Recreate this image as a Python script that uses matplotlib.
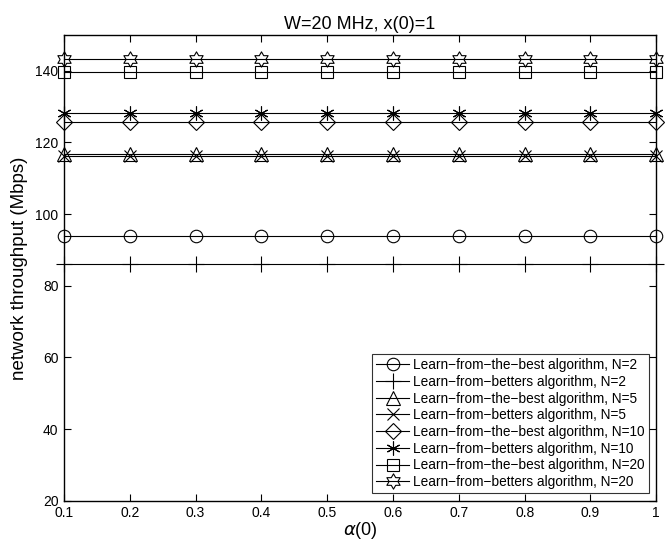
import matplotlib.pyplot as plt
import numpy as np
from matplotlib.path import Path

plt.rcParams['font.family'] = ['Liberation Sans', 'DejaVu Sans']

alpha0 = [0.1, 0.2, 0.3, 0.4, 0.5, 0.6, 0.7, 0.8, 0.9, 1.0]

# throughput (Mbps), constant across alpha(0)
best_n2 = [94.0] * 10
betters_n2 = [86.0] * 10
best_n5 = [116.8] * 10
betters_n5 = [116.3] * 10
best_n10 = [125.8] * 10
betters_n10 = [128.3] * 10
best_n20 = [139.7] * 10
betters_n20 = [143.2] * 10

x_ticks = [0.1, 0.2, 0.3, 0.4, 0.5, 0.6, 0.7, 0.8, 0.9, 1.0]
x_ticklabels = ['0.1', '0.2', '0.3', '0.4', '0.5', '0.6', '0.7', '0.8', '0.9', '1']
y_ticks = [20, 40, 60, 80, 100, 120, 140]

# six-pointed star outline for the N=20 betters curve
ang = np.deg2rad(90 + 30 * np.arange(12))
rad = np.where(np.arange(12) % 2 == 0, 1.0, 1 / np.sqrt(3))
verts = np.column_stack([rad * np.cos(ang), rad * np.sin(ang)])
verts = np.vstack([verts, verts[0]])
hexagram = Path(verts, closed=True)

series = [
    (best_n2, 'o', 9, 'Learn\u2212from\u2212the\u2212best algorithm, N=2'),
    (betters_n2, '+', 12, 'Learn\u2212from\u2212betters algorithm, N=2'),
    (best_n5, '^', 10, 'Learn\u2212from\u2212the\u2212best algorithm, N=5'),
    (betters_n5, 'x', 8, 'Learn\u2212from\u2212betters algorithm, N=5'),
    (best_n10, 'D', 8, 'Learn\u2212from\u2212the\u2212best algorithm, N=10'),
    (betters_n10, (6, 2, 0), 10, 'Learn\u2212from\u2212betters algorithm, N=10'),
    (best_n20, 's', 8, 'Learn\u2212from\u2212the\u2212best algorithm, N=20'),
    (betters_n20, hexagram, 11, 'Learn\u2212from\u2212betters algorithm, N=20'),
]

fig = plt.figure(figsize=(6.7, 5.46), dpi=100)
ax = fig.add_axes([0.0955, 0.083, 0.884, 0.853])

for y, m, ms, lab in series:
    ax.plot(alpha0, y, color='black', lw=0.8, marker=m, ms=ms,
            mfc='none', mec='black', mew=0.8, label=lab, clip_on=False)

ax.set_xlim(0.1, 1.0)
ax.set_ylim(20, 150)
ax.set_xticks(x_ticks)
ax.set_xticklabels(x_ticklabels)
ax.set_yticks(y_ticks)
ax.tick_params(direction='in', top=True, right=True, labelsize=10, length=5, width=0.8, pad=4)
for s in ax.spines.values():
    s.set_linewidth(1.0)

ax.set_xlabel(r'$\alpha$(0)', fontsize=13, labelpad=0)
ax.set_ylabel('network throughput (Mbps)', fontsize=13.5, labelpad=5)
ax.set_title('W=20 MHz, x(0)=1', fontsize=13, pad=4)

leg = ax.legend(loc='lower right', bbox_to_anchor=(0.987, 0.016), borderaxespad=0,
                fontsize=9.8, frameon=True, fancybox=False, edgecolor='black',
                handlelength=2.4, handletextpad=0.3, labelspacing=0.2,
                borderpad=0.3, numpoints=1)
leg.get_frame().set_linewidth(0.8)

fig.savefig('out.png', dpi=100)
